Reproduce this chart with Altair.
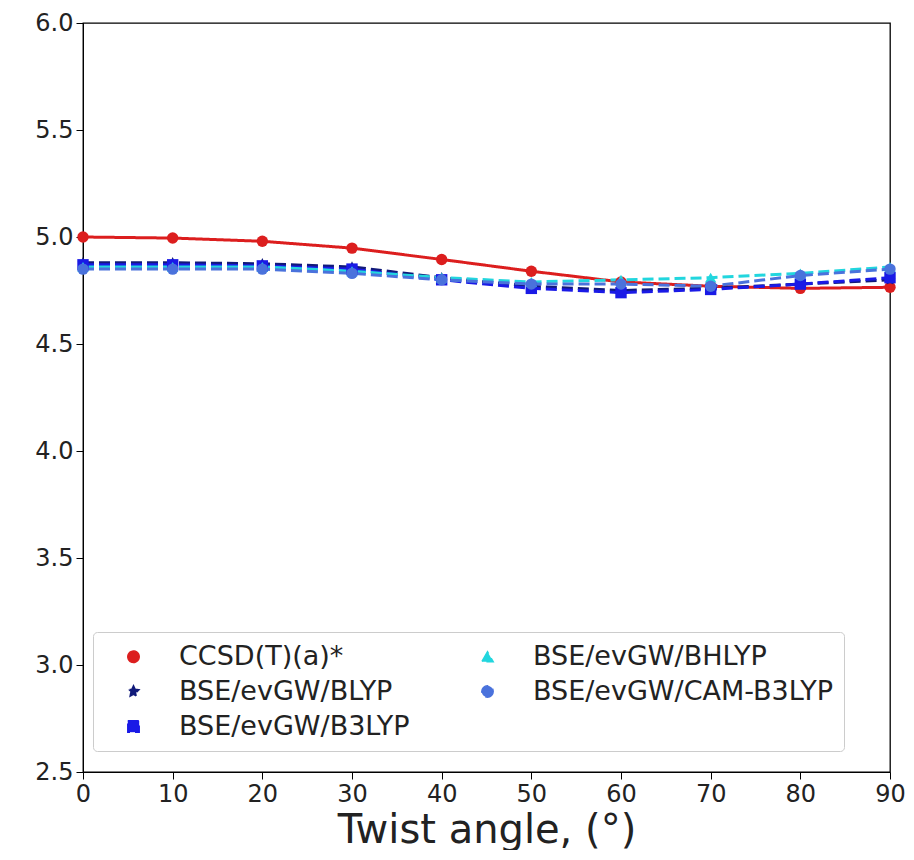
import altair as alt
import pandas as pd

angles = [0, 10, 20, 30, 40, 50, 60, 70, 80, 90]
ccsd = [5.00, 4.995, 4.98, 4.948, 4.895, 4.84, 4.79, 4.77, 4.76, 4.765]
blyp = [4.88, 4.88, 4.875, 4.86, 4.81, 4.77, 4.75, 4.76, 4.78, 4.80]
b3lyp = [4.87, 4.87, 4.865, 4.85, 4.80, 4.76, 4.74, 4.755, 4.78, 4.81]
bhlyp = [4.86, 4.86, 4.86, 4.84, 4.81, 4.79, 4.80, 4.81, 4.83, 4.86]
camb3lyp = [4.85, 4.85, 4.85, 4.83, 4.80, 4.78, 4.78, 4.77, 4.82, 4.85]

names = ["CCSD(T)(a)*", "BSE/evGW/BLYP", "BSE/evGW/B3LYP", "BSE/evGW/BHLYP", "BSE/evGW/CAM-B3LYP"]
series_vals = [ccsd, blyp, b3lyp, bhlyp, camb3lyp]
colors = ["#dc1e1e", "#111a7a", "#1a1ae6", "#22d6de", "#4a72dc"]
star = "M0,-1L0.29,-0.4L0.95,-0.31L0.47,0.15L0.59,0.81L0,0.5L-0.59,0.81L-0.47,0.15L-0.95,-0.31L-0.29,-0.4Z"
shapes = ["circle", star, "square", "triangle-up", "circle"]
dashes = [[1, 0], [11, 5], [11, 5], [11, 5], [11, 5]]

rows = []
for i, (n, vals) in enumerate(zip(names, series_vals)):
    for a, v in zip(angles, vals):
        rows.append({"series": n, "angle": a, "value": v})
df = pd.DataFrame(rows)

color_scale = alt.Scale(domain=names, range=colors)
shape_scale = alt.Scale(domain=names, range=shapes)
dash_scale = alt.Scale(domain=names, range=dashes)

x_enc = alt.X("angle:Q", scale=alt.Scale(domain=[0, 90], nice=False, zero=False),
              axis=alt.Axis(values=angles, title="Twist angle, (°)", grid=False,
                            labelFontSize=24, titleFontSize=40, titleFontWeight="normal",
                            tickSize=7, labelPadding=3, titlePadding=4, labelFlush=False,
                            domainColor="black", tickColor="black", labelColor="#222",
                            titleColor="#222"))
y_enc = alt.Y("value:Q", scale=alt.Scale(domain=[2.5, 6.0], nice=False, zero=False),
              axis=alt.Axis(values=[2.5, 3.0, 3.5, 4.0, 4.5, 5.0, 5.5, 6.0], format=".1f",
                            title=None, grid=False, labelFontSize=24, tickSize=7,
                            labelPadding=3, labelFlush=False, domainColor="black",
                            tickColor="black", labelColor="#222"))

legend = alt.Legend(title=None, orient="none", legendX=10, legendY=609, columns=2,
                    columnPadding=48, rowPadding=7, labelFontSize=27, labelLimit=500,
                    symbolSize=130, symbolStrokeWidth=1.5, strokeColor="#cccccc",
                    fillColor="white", padding=11, cornerRadius=4, labelColor="#222",
                    symbolOffset=16, labelOffset=32)

lines = alt.Chart(df).mark_line(strokeWidth=3).encode(
    x=x_enc, y=y_enc,
    color=alt.Color("series:N", scale=color_scale, legend=legend),
    strokeDash=alt.StrokeDash("series:N", scale=dash_scale, legend=None),
    detail="series:N",
    order="angle:Q",
)
points = alt.Chart(df).mark_point(filled=True, size=130, opacity=1).encode(
    x=x_enc, y=y_enc,
    color=alt.Color("series:N", scale=color_scale, legend=legend),
    shape=alt.Shape("series:N", scale=shape_scale, legend=legend),
)

chart = alt.layer(lines, points).properties(
    width=898, height=842,
    autosize=alt.AutoSizeParams(type="fit", contains="padding"),
    padding={"left": 26, "top": 3, "right": 0, "bottom": 0},
).configure(
    font="DejaVu Sans",
    view=alt.ViewConfig(stroke="black", strokeWidth=1.3),
)

chart.save("out.html", embed_options={"renderer": "svg", "actions": False})
